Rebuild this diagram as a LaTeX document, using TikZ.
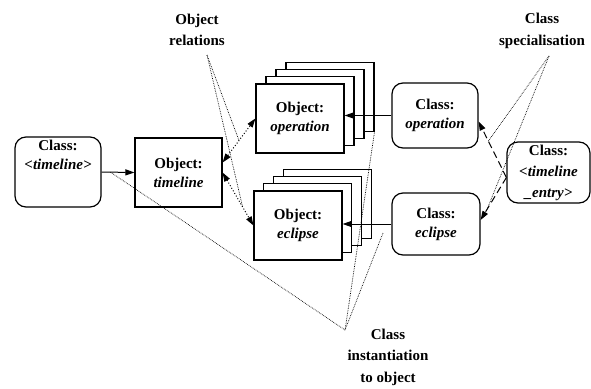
\documentclass[tikz,border=0pt]{standalone}
\usepackage{fontspec}
\setmainfont{Liberation Serif}
\usetikzlibrary{arrows.meta,calc}

\begin{document}
\begin{tikzpicture}[x=1pt, y=-1pt,
        font=\fontsize{15}{19}\selectfont\bfseries,
        classbox/.style={draw, line width=1.2pt, rounded corners=11pt, align=center, inner sep=0pt},
        objbox/.style={draw, line width=1.2pt, fill=white, align=center, inner sep=0pt,
            minimum width=88pt, minimum height=69pt},
        inst/.style={line width=1pt, -{Triangle[length=9pt,width=6pt]}},
        spec/.style={line width=1pt, dash pattern=on 7pt off 4pt, -{Triangle[length=9pt,width=6pt]}},
        rel/.style={line width=1pt, dotted,
            {Triangle[length=9pt,width=6pt]}-{Triangle[length=9pt,width=6pt]}},
        note/.style={densely dotted, line width=0.7pt},
        notelabel/.style={align=center, font=\fontsize{15}{21.5}\selectfont\bfseries}]

        \useasboundingbox (0,0) rectangle (591,388);

        % ---- class boxes ----
        \node[classbox, minimum width=86pt, minimum height=70pt,
            label={[align=center, anchor=north, inner sep=3pt]north:Class:\\\textit{<timeline>}}]
            (ctl) at (58,172) {};
        \node[classbox, minimum width=86pt, minimum height=65pt] (cop) at (435,115.5)
            {Class:\\\textit{operation}};
        \node[classbox, minimum width=88pt, minimum height=62pt] (cec) at (436,224)
            {Class:\\\textit{eclipse}};
        \node[classbox, minimum width=83pt, minimum height=61pt, font=\fontsize{15}{21}\selectfont\bfseries]
            (cte) at (548.5,172.5) {Class:\\\textit{<timeline}\\\textit{\_entry>}};

        % ---- object boxes (stacks of instances) ----
        \node[objbox, minimum width=87pt] (otl) at (178.5,172.5) {Object:\\\textit{timeline}};
        \foreach \k in {3,2,1} {
            \node[objbox] (oopback\k) at ($(300,118.5)+(\k*10,-\k*7.3)$) {};
            \node[objbox] (oecback\k) at ($(298,225.5)+(\k*9.7,-\k*7.3)$) {};
        }
        \node[objbox] (oop) at (300,118.5) {Object:\\\textit{operation}};
        \node[objbox] (oec) at (298,225.5) {Object:\\\textit{eclipse}};

        % ---- instantiation ----
        \draw[inst] (ctl.east) -- coordinate[pos=0.27] (cinA) (otl.west);
        \draw[inst] (cop.west) -- (cop.west -| oop.east);
        \draw[inst] (cec.west) -- (cec.west -| oec.east);

        % ---- specialisation ----
        \draw[spec] ([yshift=-5pt]cte.west) -- coordinate[pos=0.65] (spA) ([yshift=-6pt]cop.east);
        \draw[spec] ([yshift=-5pt]cte.west) -- coordinate[pos=0.75] (spB) ([yshift=4pt]cec.east);

        % ---- object relations ----
        \draw[rel] ([yshift=10pt]otl.east) -- coordinate[pos=0.5] (relA) (oop.west);
        \draw[rel] (otl.east) -- coordinate[pos=0.65] (relB) (oec.west);

        % ---- annotations ----
        \node[notelabel] (orl) at (197,30) {Object\\relations};
        \coordinate (orlTip) at (207,55);
        \draw[note] (orlTip) -- (relA);
        \draw[note] (orlTip) -- (relB);

        \node[notelabel] (csp) at (542,31) {Class\\specialisation};
        \coordinate (cspTip) at (549,56);
        \draw[note] (cspTip) -- (spA);
        \draw[note] (cspTip) -- (spB);

        \node[notelabel] (cin) at (388,357) {Class\\instantiation\\to object};
        \coordinate (cinTip) at (345,330);
        \coordinate (cinC) at (383,233);
        \draw[note] (cinA) -- (cinTip);
        \draw[note] (oopback3.south east) -- (cinTip);
        \draw[note] (cinC) -- (cinTip);
    \end{tikzpicture}
\end{document}
